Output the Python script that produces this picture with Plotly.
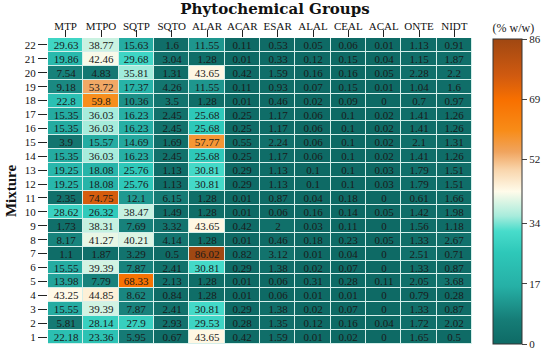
import plotly.graph_objects as go

groups = ["MTP", "MTPO", "SQTP", "SQTO", "ALAR", "ACAR", "ESAR", "ALAL", "CEAL", "ACAL", "ONTE", "NIDT"]
mixtures = list(range(1, 23))

# values per group, mixtures 1..22
MTP = [22.18, 5.81, 15.55, 43.25, 13.98, 15.55, 1.1, 8.17, 1.73, 28.62, 2.35, 19.25, 19.25, 15.35, 3.9, 15.35, 15.35, 22.8, 9.18, 7.54, 19.86, 29.63]
MTPO = [23.36, 28.14, 39.39, 44.85, 7.79, 39.39, 1.87, 41.27, 38.31, 26.32, 74.75, 18.08, 18.08, 36.03, 15.57, 36.03, 36.03, 59.8, 53.72, 4.83, 42.46, 38.77]
SQTP = [5.95, 27.9, 7.87, 8.62, 68.33, 7.87, 3.29, 40.21, 7.69, 38.47, 12.1, 25.76, 25.76, 16.23, 14.69, 16.23, 16.23, 10.36, 17.37, 35.81, 29.68, 15.63]
SQTO = [0.67, 2.93, 2.41, 0.84, 2.13, 2.41, 0.5, 4.14, 3.32, 1.49, 6.15, 1.13, 1.13, 2.45, 1.69, 2.45, 2.45, 3.5, 4.26, 1.31, 3.04, 1.6]
ALAR = [43.65, 29.53, 30.81, 1.28, 1.28, 30.81, 86.02, 1.28, 43.65, 1.28, 1.28, 30.81, 30.81, 25.68, 57.77, 25.68, 25.68, 1.28, 11.55, 43.65, 1.28, 11.55]
ACAR = [0.42, 0.28, 0.29, 0.01, 0.01, 0.29, 0.82, 0.01, 0.42, 0.01, 0.01, 0.29, 0.29, 0.25, 0.55, 0.25, 0.25, 0.01, 0.11, 0.42, 0.01, 0.11]
ESAR = [1.59, 1.35, 1.38, 0.06, 0.06, 1.38, 3.12, 0.46, 2, 0.06, 0.87, 1.13, 1.13, 1.17, 2.24, 1.17, 1.17, 0.46, 0.93, 1.59, 0.33, 0.53]
ALAL = [0.01, 0.12, 0.02, 0.01, 0.31, 0.02, 0.01, 0.18, 0.03, 0.16, 0.04, 0.1, 0.1, 0.06, 0.06, 0.06, 0.06, 0.02, 0.07, 0.16, 0.12, 0.05]
CEAL = [0.02, 0.16, 0.07, 0.01, 0.28, 0.07, 0.04, 0.23, 0.11, 0.14, 0.18, 0.1, 0.1, 0.1, 0.1, 0.1, 0.1, 0.09, 0.15, 0.16, 0.15, 0.06]
ACAL = [0, 0.04, 0, 0, 0.11, 0, 0, 0.05, 0, 0.05, 0, 0.03, 0.03, 0.02, 0.02, 0.02, 0.02, 0, 0.01, 0.05, 0.04, 0.01]
ONTE = [1.65, 1.72, 1.33, 0.79, 2.05, 1.33, 2.51, 1.33, 1.56, 1.42, 0.61, 1.79, 1.79, 1.41, 2.1, 1.41, 1.41, 0.7, 1.04, 2.28, 1.15, 1.13]
NIDT = [0.5, 2.02, 0.87, 0.28, 3.68, 0.87, 0.71, 2.67, 1.18, 1.98, 1.66, 1.51, 1.51, 1.26, 1.31, 1.26, 1.26, 0.97, 1.6, 2.2, 1.87, 0.91]

cbar_ticks = [0, 17, 34, 52, 69, 86]

columns = [MTP, MTPO, SQTP, SQTO, ALAR, ACAR, ESAR, ALAL, CEAL, ACAL, ONTE, NIDT]
z = [[col[i] for col in columns] for i in range(len(mixtures))]
text = [[f"{v:g}" for v in row] for row in z]

colorscale = [
    [0.00, "#0e6a65"],
    [0.08, "#167d77"],
    [0.19, "#26b0a6"],
    [0.30, "#2ec8b9"],
    [0.37, "#48dccb"],
    [0.42, "#a8ecdc"],
    [0.50, "#fffbea"],
    [0.57, "#f9d6ad"],
    [0.63, "#f0a45e"],
    [0.70, "#f88c18"],
    [0.80, "#f87000"],
    [0.88, "#d05a10"],
    [1.00, "#a04812"],
]

font_family = "Liberation Serif, Times New Roman, serif"

fig = go.Figure(go.Heatmap(
    z=z, x=groups, y=mixtures,
    text=text, texttemplate="%{text}",
    textfont=dict(family=font_family, size=11, color="#1a1a1a"),
    colorscale=colorscale, zmin=0, zmax=86,
    xgap=1, ygap=1,
    colorbar=dict(
        title=dict(text="(% w/w)", side="top", font=dict(family=font_family, size=12, color="#222")),
        tickvals=cbar_ticks, ticks="outside", ticklen=5,
        tickfont=dict(family=font_family, size=11, color="#222"),
        thickness=29, thicknessmode="pixels",
        len=324, lenmode="pixels", y=0.0, yanchor="bottom",
        x=1.0495, xanchor="left", xpad=0, ypad=0,
        outlinecolor="#333", outlinewidth=1,
    ),
))

fig.update_layout(
    width=550, height=350,
    margin=dict(l=48, r=78, t=38, b=6),
    paper_bgcolor="white", plot_bgcolor="#d5efea",
    title=dict(text="<b>Phytochemical Groups</b>", x=0.5, xanchor="center",
               y=1 - 9 / 350, yref="container", yanchor="middle",
               font=dict(family="DejaVu Serif, serif", size=15, color="#111")),
    xaxis=dict(side="top", ticks="outside", ticklen=7, tickcolor="#222",
               ticklabelstandoff=-4,
               tickfont=dict(family=font_family, size=11, color="#111"),
               showgrid=False, zeroline=False),
    yaxis=dict(ticks="outside", ticklen=9, tickcolor="#222",
               tickvals=mixtures, ticktext=[str(m) for m in mixtures],
               tickfont=dict(family=font_family, size=11, color="#111"),
               title=dict(text="<b>Mixture</b>", font=dict(family=font_family, size=15, color="#111"), standoff=4),
               showgrid=False, zeroline=False),
)

fig.write_html("out.html", config={"displayModeBar": False},
               post_script="document.body.style.margin='0';")
